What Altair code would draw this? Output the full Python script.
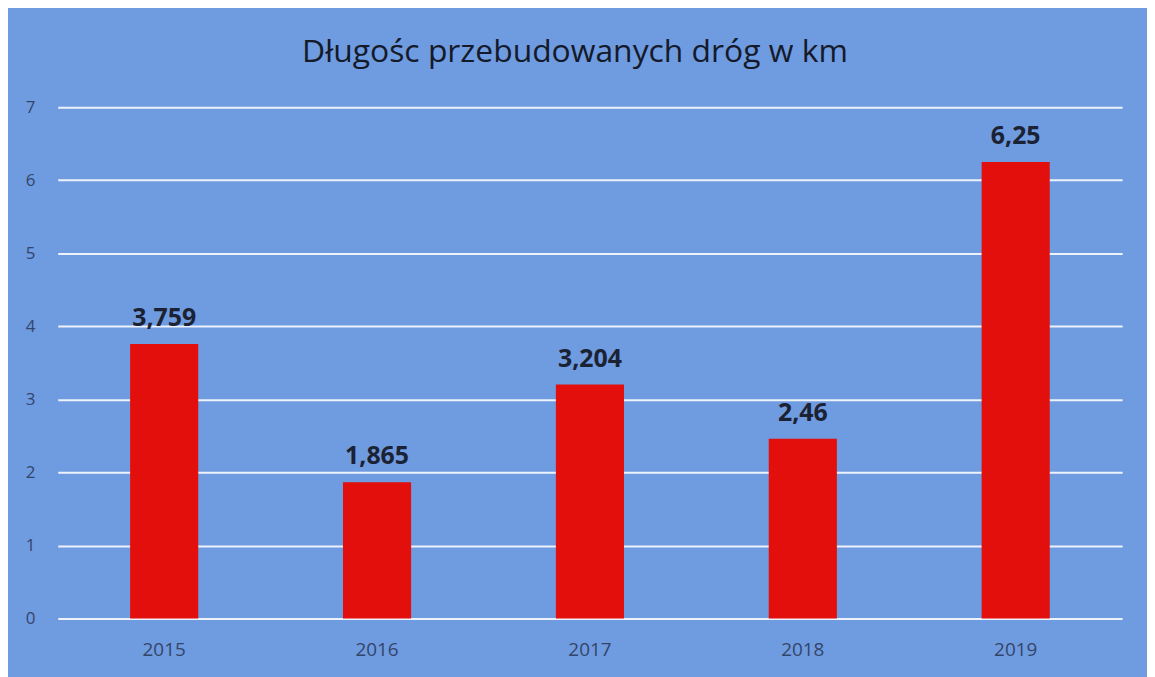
import altair as alt
import pandas as pd

years = ["2015", "2016", "2017", "2018", "2019"]
values = [3.759, 1.865, 3.204, 2.46, 6.25]
labels = ["3,759", "1,865", "3,204", "2,46", "6,25"]
y_ticks = [0, 1, 2, 3, 4, 5, 6, 7]

df = pd.DataFrame({"year": years, "value": values, "label": labels})

BG = "#6f9be0"

x = alt.X("year:N", sort=years, title=None,
          scale=alt.Scale(paddingInner=0.68, paddingOuter=0.34),
          axis=alt.Axis(labelAngle=0, labelFontSize=19, labelColor="#34456a",
                        labelFont="Open Sans", labelPadding=22, ticks=False,
                        domain=False, grid=False))
y = alt.Y("value:Q", title=None,
          scale=alt.Scale(domain=[0, 7], nice=False),
          axis=alt.Axis(values=y_ticks, format="d", labelFontSize=17,
                        labelColor="#34456a", labelFont="Open Sans",
                        labelPadding=23, ticks=False, domain=False, grid=True,
                        gridColor="#eef2fa", gridWidth=2))

bars = alt.Chart(df).mark_bar(color="#e20f0c").encode(x=x, y=y)
text = alt.Chart(df).mark_text(baseline="bottom", dy=-13, fontSize=25,
                               fontWeight="bold", font="Open Sans",
                               color="#1b2233").encode(
    x=alt.X("year:N", sort=years), y="value:Q", text="label:N")

chart = (bars + text).properties(
    width=1070, height=514,
    background=BG,
    autosize=alt.AutoSizeParams(type="none"),
    padding={"left": 50, "top": 98, "right": 25, "bottom": 62},
    title=alt.TitleParams("Długośc przebudowanych dróg w km", fontSize=32,
                          font="Open Sans", fontWeight="normal",
                          color="#141a2a", anchor="middle", dx=-15,
                          offset=29),
).configure_view(stroke=None, fill=BG)

chart.save("out.html", embed_options={"renderer": "svg", "actions": False})
